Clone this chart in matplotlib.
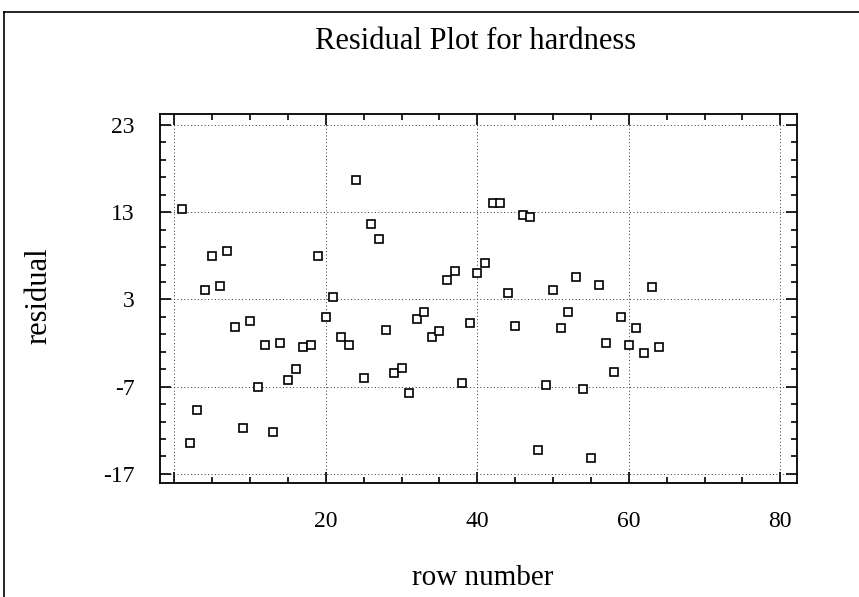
import numpy as np
import matplotlib.pyplot as plt
from matplotlib.lines import Line2D
from matplotlib.ticker import MultipleLocator, FixedLocator

# residuos del modelo para hardness, por número de fila
row_number = np.arange(1, 65)
residual = [13.4, -13.5, -9.7, 4.1, 8.0, 4.5, 8.6, -0.2, -11.7, 0.55,
            -7.0, -2.2, -12.2, -2.0, -6.2, -5.0, -2.5, -2.2, 8.0, 0.95,
            3.25, -1.3, -2.2, 16.7, -6.05, 11.65, 9.9, -0.5, -5.4, -4.9,
            -7.7, 0.8, 1.6, -1.35, -0.6, 5.2, 6.3, -6.55, 0.35, 6.0,
            7.2, 14.1, 14.1, 3.7, -0.05, 12.7, 12.4, -14.3, -6.8, 4.1,
            -0.3, 1.6, 5.6, -7.3, -15.2, 4.65, -2.0, -5.3, 0.95, -2.2,
            -0.3, -3.2, 4.4, -2.4]

x_ticks = [0, 20, 40, 60, 80]
x_tick_labels = ['', '20', '40', '60', '80']
y_ticks = [23, 13, 3, -7, -17]

plt.rcParams['font.family'] = ['Liberation Serif', 'DejaVu Serif']
plt.rcParams['axes.unicode_minus'] = False

fig = plt.figure(figsize=(8.59, 5.97), dpi=100)
ax = fig.add_axes([160 / 859, 1 - 483 / 597, 637 / 859, 369 / 597])

ax.plot(row_number, residual, linestyle='none', marker='s', markersize=5.8,
        markerfacecolor='white', markeredgecolor='black', markeredgewidth=1.2)

ax.set_xlim(-1.9, 82.2)
ax.set_ylim(-18.05, 24.26)

ax.set_xticks(x_ticks)
ax.set_xticklabels(x_tick_labels)
ax.set_yticks(y_ticks)
ax.xaxis.set_minor_locator(MultipleLocator(5))
ax.yaxis.set_minor_locator(FixedLocator(np.arange(-17, 24, 2)))

ax.tick_params(which='both', direction='in', top=True, right=True,
               width=1.2, colors='black')
ax.tick_params(which='major', length=8)
ax.tick_params(which='minor', length=4.5)
ax.tick_params(axis='y', labelsize=17, pad=18)
ax.tick_params(axis='x', labelsize=17, pad=20)

for s in ax.spines.values():
    s.set_linewidth(1.3)

ax.grid(True, which='major', color='#333333', linestyle=(0, (1, 2.5)), linewidth=0.7)

ax.set_title('Residual Plot for hardness', fontsize=22, x=0.495, y=1.154)
ax.set_xlabel('row number', fontsize=21)
ax.xaxis.set_label_coords(0.507, -0.222)
ax.set_ylabel('residual', fontsize=22)
ax.yaxis.set_label_coords(-0.168, 0.507)

# marco exterior
fig.add_artist(Line2D([4 / 859, 1], [1 - 12 / 597, 1 - 12 / 597], color='black', linewidth=1.2))
fig.add_artist(Line2D([4 / 859, 4 / 859], [0, 1 - 12 / 597], color='black', linewidth=1.2))

fig.savefig('out.png', dpi=100)
